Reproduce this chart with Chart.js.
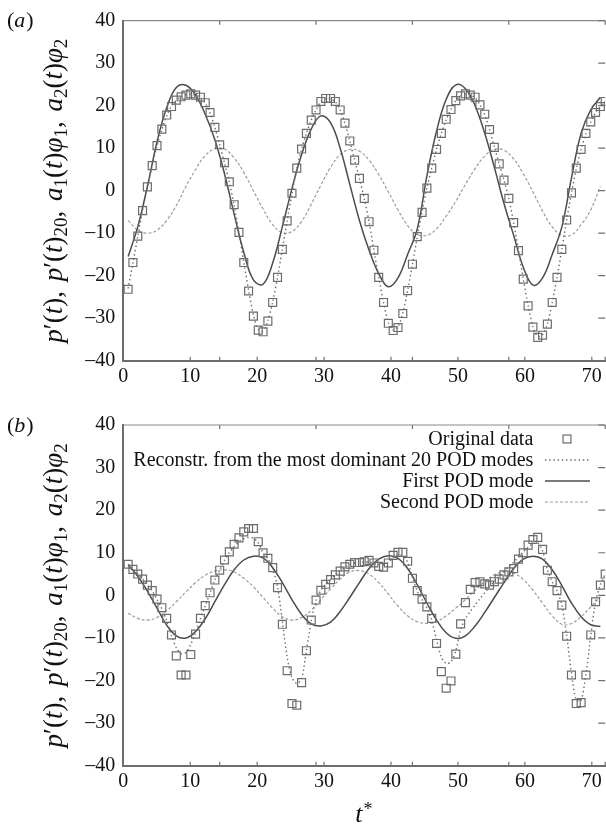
<!DOCTYPE html>
<html>
<head>
<meta charset="utf-8">
<script src="https://cdn.jsdelivr.net/npm/chart.js@4.4.1/dist/chart.umd.min.js"></script>
<style>
  html, body { margin: 0; padding: 0; background: #fff; overflow: hidden; }
  canvas { display: block; }
</style>
</head>
<body>
<canvas id="panelA" width="612" height="400"></canvas>
<canvas id="panelB" width="612" height="425"></canvas>
<script>
// sampling interval of the pressure record (t*), modes are stored every second sample
const dt = 0.72;

const xTickValues = [0, 10, 20, 30, 40, 50, 60, 70];
const x2TickValues = [14.4, 28.8, 43.2, 57.6, 72];
const yTickValues = [-40, -30, -20, -10, 0, 10, 20, 30, 40];

const seriesLabels = [
  'Original data',
  'Reconstr. from the most dominant 20 POD modes',
  'First POD mode',
  'Second POD mode'
];

// ---- panel (a)
const origA = [
  -23.2, -16.9, -10.7, -4.7, 0.9, 5.9, 10.6, 14.5, 17.8, 19.8,
  21.3, 22.1, 22.5, 22.8, 22.5, 22.0, 20.7, 18.4, 14.9, 10.8,
  6.6, 2.1, -3.3, -9.8, -16.9, -23.6, -29.5, -32.8, -33.2, -30.7,
  -26.3, -20.4, -13.8, -7.1, -0.6, 5.3, 9.8, 13.5, 16.6, 19.0,
  21.0, 21.7, 21.7, 21.0, 19.0, 15.9, 11.7, 7.2, 2.9, -1.8,
  -7.3, -14.0, -20.4, -26.3, -31.2, -32.9, -32.2, -28.9, -23.5, -17.3,
  -10.8, -5.1, 0.6, 5.3, 9.7, 13.5, 16.8, 19.1, 21.2, 22.3,
  22.8, 22.5, 22.0, 20.2, 18.0, 14.4, 10.2, 6.3, 2.5, -1.8,
  -7.5, -14.1, -20.8, -27.1, -32.1, -34.5, -34.0, -31.4, -26.3, -20.4,
  -13.8, -6.9, -0.5, 5.3, 9.7, 13.5, 16.2, 18.4, 19.8, 21.0
];
const rec20A = [
  -23.0, -17.0, -10.8, -4.6, 0.8, 5.9, 10.5, 14.4, 17.6, 19.9,
  21.3, 22.2, 22.6, 22.7, 22.5, 21.9, 20.6, 18.3, 14.9, 10.8,
  6.5, 2.0, -3.4, -9.9, -16.8, -23.4, -29.2, -32.6, -33.0, -30.6,
  -26.2, -20.4, -13.8, -7.1, -0.7, 5.2, 9.8, 13.5, 16.6, 19.0,
  20.9, 21.7, 21.6, 20.9, 19.0, 15.8, 11.7, 7.2, 2.8, -1.9,
  -7.3, -14.0, -20.3, -26.2, -31.0, -32.8, -32.0, -28.8, -23.5, -17.3,
  -10.9, -5.0, 0.6, 5.3, 9.7, 13.5, 16.7, 19.2, 21.2, 22.3,
  22.7, 22.5, 21.9, 20.2, 17.9, 14.4, 10.3, 6.3, 2.4, -1.9,
  -7.5, -14.0, -20.7, -27.0, -32.0, -34.3, -33.9, -31.3, -26.3, -20.4,
  -13.8, -6.9, -0.6, 5.2, 9.7, 13.4, 16.2, 18.4, 19.8, 21.0
];
const mode1A = [
  -15.5, -8.5, 1, 11.5, 19.5, 24.3, 24.8, 22.5, 18, 12,
  4, -5.5, -14.5, -21, -22, -17, -8.5, 0.5, 8.5, 14.5,
  17.6, 16, 10, 1.5, -7, -14, -19.5, -22.6, -20.5, -15,
  -9, 3.5, 14, 21.5, 24.9, 24, 20, 13.5, 5.5, -3,
  -10.5, -18, -22.2, -20.5, -15, -8.5, 3, 13.5, 19, 22
];
const mode2A = [
  -7, -9.3, -10, -9.3, -7, -3.5, 1, 5, 8.3, 9.9,
  9.8, 7.7, 4.3, 0, -4.3, -8, -9.9, -9.6, -7.2, -3.2,
  1.3, 5.5, 8.5, 9.7, 9.3, 7.2, 3.8, -0.3, -4.5, -8.2,
  -10.3, -10.5, -9, -6, -2.5, 1.5, 5.2, 8.2, 9.7, 9.5,
  7.5, 4, -0.3, -4.8, -8.5, -10.5, -10.4, -8, -4.5, 1
];

// ---- panel (b)
const origB = [
  7.3, 6.1, 5.0, 3.8, 2.4, 1.1, -0.9, -2.9, -5.4, -9.3,
  -14.2, -18.7, -18.7, -13.9, -9.1, -5.4, -2.4, 0.6, 3.6, 5.9,
  8.3, 10.2, 12.0, 13.5, 14.9, 15.7, 15.7, 12.6, 10.0, 8.7,
  6.5, 1.8, -6.8, -17.7, -25.4, -25.8, -20.5, -13.0, -5.8, -1.1,
  1.2, 2.6, 3.7, 4.8, 5.7, 6.7, 7.3, 7.7, 7.7, 7.9,
  8.2, 7.6, 6.8, 6.6, 7.6, 9.4, 10.1, 10.1, 8.0, 4.0,
  1.1, -0.9, -2.7, -5.4, -11.3, -17.9, -21.8, -20.1, -13.8, -6.7,
  -1.7, 1.4, 3.0, 3.2, 2.7, 2.4, 3.2, 3.8, 4.8, 5.5,
  6.3, 8.5, 10.0, 11.8, 13.1, 13.6, 10.8, 5.9, 3.2, 1.1,
  -2.3, -9.6, -18.7, -25.4, -25.2, -18.7, -9.3, -1.5, 2.4, 5.0
];
const rec20B = [
  7.3, 6.2, 5.0, 3.8, 2.4, 1.0, -1.0, -3.2, -6.0, -9.5,
  -12.3, -13.7, -13.4, -11.5, -8.8, -5.5, -2.5, 0.6, 3.6, 5.9,
  8.2, 10.0, 11.4, 12.6, 13.3, 13.6, 13.4, 12.4, 10.0, 8.6,
  6.3, 2.0, -6.0, -14.5, -19.3, -20.7, -19.5, -13.0, -6.0, -1.2,
  1.2, 2.6, 3.7, 4.8, 5.7, 6.6, 7.2, 7.6, 7.8, 7.8,
  7.8, 7.5, 7.2, 7.2, 7.8, 8.8, 9.5, 9.3, 7.8, 4.2,
  1.0, -1.0, -3.0, -5.8, -10.5, -14.5, -16.0, -15.6, -13.0, -8.0,
  -5.5, -3.8, -2.3, -0.8, 0.6, 2.0, 3.3, 4.5, 5.6, 6.7,
  7.8, 9.0, 10.2, 11.3, 12.1, 12.3, 10.5, 6.0, 3.2, 1.1,
  -2.3, -9.4, -18.2, -24.6, -24.6, -18.5, -9.5, -1.5, 2.5, 5.0
];
const mode1B = [
  7.1, 4.5, 1, -3, -7, -9.5, -10, -8.5, -5.5, -1.5,
  2.5, 6, 8.3, 9.2, 8.8, 6.5, 3, -1, -4.5, -6.7,
  -7.2, -6.3, -3.8, -0.5, 3, 6.3, 8.5, 9.3, 8.7, 6.3,
  2.5, -1.8, -5.8, -8.8, -10.1, -9.5, -7.2, -4, -0.5, 3,
  6.3, 8.5, 9.2, 8.5, 6, 2.3, -1.8, -5, -6.9, -7.3
];
const mode2B = [
  -4.2, -5.4, -5.8, -5.2, -3.6, -1.5, 0.8, 3, 4.7, 5.7,
  6, 5.5, 4, 2, -0.5, -3, -5, -5.8, -5.2, -3.5,
  -1, 1.5, 3.8, 5.5, 5.8, 5, 3, 0.3, -2.5, -4.8,
  -6.2, -6.6, -6.2, -4.8, -3, -1, 1.2, 3.2, 4.8, 5.5,
  5.2, 3.7, 1.2, -1.8, -4.8, -6.8, -6.6, -5, -2.7, -0.3
];

const SERIF = '"Liberation Serif", "Times New Roman", serif';

function toPoints(values, step) {
  return values.map((v, i) => ({ x: +(dt + i * step).toFixed(2), y: v }));
}

// first dataset is drawn last, so the squares sit on top
function makeDatasets(orig, rec, m1, m2) {
  return [
    { label: seriesLabels[0], data: toPoints(orig, dt), showLine: false,
      pointStyle: 'rect', pointRadius: 5.6, pointBorderWidth: 1.2,
      pointBorderColor: '#6c6c6c', pointBackgroundColor: 'rgba(0,0,0,0)', borderColor: '#6c6c6c' },
    { label: seriesLabels[1], data: toPoints(rec, dt), borderColor: '#6a6a6a',
      borderWidth: 1.4, borderDash: [1.4, 2.8], pointRadius: 0, tension: 0.3 },
    { label: seriesLabels[2], data: toPoints(m1, 2 * dt), borderColor: '#4c4c4c',
      borderWidth: 1.5, pointRadius: 0, tension: 0.4 },
    { label: seriesLabels[3], data: toPoints(m2, 2 * dt), borderColor: '#9c9c9c',
      borderWidth: 1.2, borderDash: [3, 2], pointRadius: 0, tension: 0.4 }
  ];
}

// y-axis title pieces: i = italic, r = roman, s = subscript, g = gap after a comma
const yTitle = [
  ['p', 'i'], ['\u2032', 'r'], ['(', 'r'], ['t', 'i'], ['),', 'r'], [' ', 'g'],
  ['p', 'i'], ['\u2032', 'r'], ['(', 'r'], ['t', 'i'], [')', 'r'], ['20', 's'], [',', 'r'], [' ', 'g'],
  ['a', 'i'], ['1', 's'], ['(', 'r'], ['t', 'i'], [')', 'r'], ['\u03c6', 'i'], ['1', 's'], [',', 'r'], [' ', 'g'],
  ['a', 'i'], ['2', 's'], ['(', 'r'], ['t', 'i'], [')', 'r'], ['\u03c6', 'i'], ['2', 's']
];

function pieceFont(style) {
  if (style === 'i') return 'italic 27px ' + SERIF;
  if (style === 's') return '19px ' + SERIF;
  return '27px ' + SERIF;
}

function pieceWidth(ctx, s, st) {
  ctx.font = pieceFont(st);
  return ctx.measureText(s).width + (st === 'g' ? 3 : 0);
}

const framePlugin = {
  id: 'frame',
  afterDraw(chart, args, opts) {
    const { ctx, chartArea: a, scales: { x, y } } = chart;
    ctx.save();

    // top border
    ctx.strokeStyle = '#8a8a8a';
    ctx.lineWidth = 1.2;
    ctx.beginPath();
    ctx.moveTo(a.left, a.top);
    ctx.lineTo(a.right, a.top);
    ctx.stroke();

    // inward tick marks
    ctx.strokeStyle = '#707070';
    ctx.lineWidth = 1.2;
    ctx.beginPath();
    xTickValues.forEach(v => {
      const px = x.getPixelForValue(v);
      ctx.moveTo(px, a.bottom); ctx.lineTo(px, a.bottom - 4);
    });
    x2TickValues.forEach(v => {
      const px = x.getPixelForValue(v);
      ctx.moveTo(px, a.bottom); ctx.lineTo(px, a.bottom - 4);
      ctx.moveTo(px, a.top); ctx.lineTo(px, a.top + 4);
    });
    yTickValues.forEach(v => {
      const py = y.getPixelForValue(v);
      ctx.moveTo(a.right, py); ctx.lineTo(a.right - 7, py);
    });
    ctx.stroke();

    ctx.fillStyle = '#111';
    ctx.textBaseline = 'alphabetic';

    // panel tag
    ctx.textAlign = 'left';
    let tx = 7;
    ctx.font = '22px ' + SERIF;
    ctx.fillText('(', tx, opts.tagBaseline);
    tx += ctx.measureText('(').width;
    ctx.font = 'italic 22px ' + SERIF;
    ctx.fillText(opts.tag, tx, opts.tagBaseline);
    tx += ctx.measureText(opts.tag).width + 1;
    ctx.font = '22px ' + SERIF;
    ctx.fillText(')', tx, opts.tagBaseline);

    // rotated y-axis title
    let total = 0;
    yTitle.forEach(([s, st]) => { total += pieceWidth(ctx, s, st); });
    ctx.save();
    ctx.translate(62, (a.top + a.bottom) / 2);
    ctx.rotate(-Math.PI / 2);
    let px = -total / 2;
    yTitle.forEach(([s, st]) => {
      const w = pieceWidth(ctx, s, st);
      if (st !== 'g') ctx.fillText(s, px, st === 's' ? 5 : 0);
      px += w;
    });
    ctx.restore();

    // x-axis title
    if (opts.xTitle) {
      const cx = (a.left + a.right) / 2;
      ctx.font = 'italic 26px ' + SERIF;
      const tw = ctx.measureText('t').width;
      ctx.fillText('t', cx - 9, opts.xTitleBaseline);
      ctx.font = '18px ' + SERIF;
      ctx.fillText('*', cx - 9 + tw + 1, opts.xTitleBaseline - 7);
    }

    // legend, text right-aligned with the sample on its right
    if (opts.legend) {
      const L = opts.legend;
      chart.data.datasets.forEach((ds, i) => {
        const base = L.top + i * L.rowGap;
        const my = base - 6;
        ctx.font = '20px ' + SERIF;
        ctx.textAlign = 'right';
        ctx.fillStyle = '#111';
        ctx.fillText(ds.label, L.textRight, base);
        if (ds.showLine === false) {
          const h = ds.pointRadius * Math.SQRT1_2;
          ctx.strokeStyle = ds.pointBorderColor;
          ctx.lineWidth = ds.pointBorderWidth;
          ctx.setLineDash([]);
          ctx.strokeRect(L.sampleMid - h, my - h, 2 * h, 2 * h);
        } else {
          ctx.strokeStyle = ds.borderColor;
          ctx.lineWidth = ds.borderWidth;
          ctx.setLineDash(ds.borderDash || []);
          ctx.beginPath();
          ctx.moveTo(L.sampleLeft, my);
          ctx.lineTo(L.sampleRight, my);
          ctx.stroke();
        }
      });
    }
    ctx.restore();
  }
};

function makePanel(id, sets, cfg) {
  const font = { family: SERIF, size: 20 };
  return new Chart(document.getElementById(id), {
    type: 'line',
    data: { datasets: sets },
    options: {
      responsive: false,
      animation: false,
      events: [],
      layout: { padding: { top: cfg.top, right: 1.2, left: 0, bottom: 0 } },
      plugins: {
        legend: { display: false },
        tooltip: { enabled: false },
        frame: cfg.frame
      },
      scales: {
        x: {
          type: 'linear', min: 0, max: 72,
          afterBuildTicks: s => { s.ticks = xTickValues.map(v => ({ value: v })); },
          afterFit: s => { s.height = cfg.xAxisHeight; },
          ticks: { font, color: '#111', padding: 4, maxRotation: 0, autoSkip: false },
          grid: { display: false, drawTicks: false },
          border: { color: '#6c6c6c', width: 2 }
        },
        y: {
          type: 'linear', min: -40, max: 40,
          afterBuildTicks: s => { s.ticks = yTickValues.map(v => ({ value: v })); },
          afterFit: s => { s.width = 123.3; },
          ticks: {
            font, color: '#111', padding: 8, autoSkip: false,
            callback: v => (v < 0 ? '\u2013' + Math.abs(v) : String(v))
          },
          grid: { display: false, drawTicks: false },
          border: { color: '#6c6c6c', width: 2 }
        }
      }
    },
    plugins: [framePlugin]
  });
}

makePanel('panelA', makeDatasets(origA, rec20A, mode1A, mode2A), {
  top: 20.7,
  xAxisHeight: 39.3,
  frame: { tag: 'a', tagBaseline: 27 }
});

makePanel('panelB', makeDatasets(origB, rec20B, mode1B, mode2B), {
  top: 25,
  xAxisHeight: 59.3,
  frame: {
    tag: 'b', tagBaseline: 32,
    xTitle: true, xTitleBaseline: 422,
    legend: { top: 45, rowGap: 21, textRight: 533.3, sampleLeft: 545, sampleRight: 590, sampleMid: 567 }
  }
});
</script>
</body>
</html>
